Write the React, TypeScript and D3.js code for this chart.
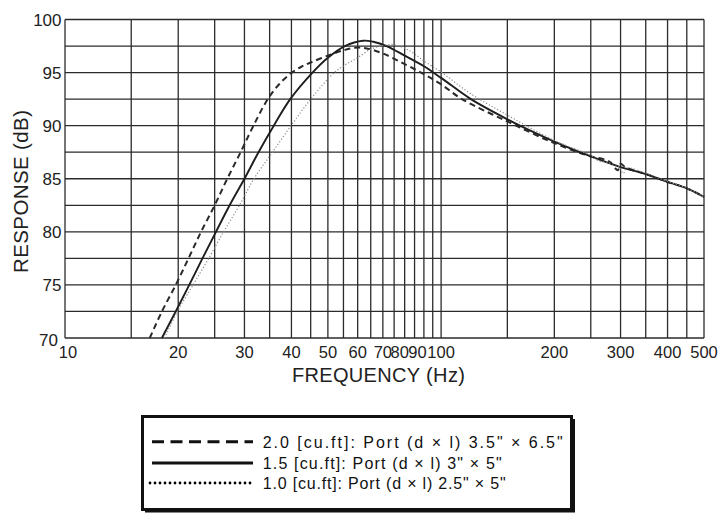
import React from "react";
import * as d3 from "d3";

// ---- data ----
const freqDashed = [16.8, 18.1, 19.7, 21.3, 23.0, 25.0, 27.0, 29.3, 31.7, 34.6, 37.2, 40.1, 42.5, 45, 50, 55, 59, 63, 70, 80, 90, 100, 113.6, 150, 200, 250, 270, 282, 290, 295, 300, 310, 350, 400, 450, 500];
const dbDashed = [70, 72.5, 75, 77.5, 80, 82.5, 85, 87.5, 90, 92.5, 93.95, 95, 95.55, 95.95, 96.6, 97.1, 97.35, 97.3, 96.8, 95.8, 94.85, 93.9, 92.5, 90.4, 88.35, 87.1, 86.85, 86.55, 86.0, 85.8, 86.4, 86.05, 85.45, 84.7, 84.1, 83.3];

const freqSolid = [18.1, 19.7, 21.4, 23.2, 25.2, 27.4, 30.0, 32.7, 35.9, 39.7, 45.5, 50, 55.5, 62, 66, 71.6, 80, 90, 100, 120, 150, 162, 200, 250, 300, 350, 400, 450, 500];
const dbSolid = [70, 72.5, 75, 77.5, 80, 82.5, 85, 87.5, 90, 92.5, 95, 96.4, 97.5, 98.0, 97.9, 97.5, 96.6, 95.6, 94.5, 92.5, 90.6, 90.0, 88.5, 87.1, 86.1, 85.45, 84.7, 84.1, 83.3];

const freqDotted = [18.4, 19.9, 21.9, 24.1, 26.4, 29.1, 31.8, 35.6, 39.9, 45, 52, 56, 60, 65, 70, 74, 80, 85, 90, 100, 120, 150, 200, 250, 262, 280, 298, 305, 312, 350, 400, 450, 500];
const dbDotted = [70, 72.5, 75, 77.5, 80, 82.5, 85, 87.5, 90, 92.5, 95, 95.8, 96.4, 97.2, 97.55, 97.65, 97.3, 96.75, 96.1, 95.05, 93.0, 91.0, 88.6, 87.2, 86.7, 86.5, 86.1, 85.5, 86.0, 85.5, 84.75, 84.1, 83.3];

const xGrid = [10, 15, 20, 25, 30, 35, 40, 45, 50, 55, 60, 65, 70, 75, 80, 85, 90, 95, 100, 150, 200, 250, 300, 350, 400, 450, 500];
const yGrid = [70, 72.5, 75, 77.5, 80, 82.5, 85, 87.5, 90, 92.5, 95, 97.5, 100];
const xTickLabels = [10, 20, 30, 40, 50, 60, 70, 80, 90, 100, 200, 300, 400, 500];
const yTickLabels = [70, 75, 80, 85, 90, 95, 100];

const legendLabels = [
  "2.0 [cu.ft]: Port (d \u00d7 l) 3.5\" \u00d7 6.5\"",
  "1.5 [cu.ft]: Port (d \u00d7 l) 3\" \u00d7 5\"",
  "1.0 [cu.ft]: Port (d \u00d7 l) 2.5\" \u00d7 5\"",
];

const FONT = "'Liberation Sans', Arial, Helvetica, sans-serif";

export default function App() {
  const x = d3.scaleLog().domain([10, 500]).range([65, 704]);
  const y = d3.scaleLinear().domain([70, 100]).range([338, 19.5]);

  const line = d3
    .line<[number, number]>()
    .x((d) => x(d[0]))
    .y((d) => y(d[1]))
    .curve(d3.curveCatmullRom.alpha(0.5));

  const series = [
    { f: freqDashed, v: dbDashed, stroke: "#2a2a2a", width: 2, dash: "6,4", cap: "butt" },
    { f: freqSolid, v: dbSolid, stroke: "#1e1e1e", width: 1.9, dash: undefined, cap: "butt" },
    { f: freqDotted, v: dbDotted, stroke: "#8a8a8a", width: 1.2, dash: "1.2,2", cap: "butt" },
  ];

  const legendStyles = [
    { stroke: "#111", width: 3, dash: "12,6.5", cap: "butt", x0: 152 },
    { stroke: "#111", width: 3, dash: undefined, cap: "butt", x0: 152 },
    { stroke: "#000", width: 2.8, dash: "0,5", cap: "round", x0: 150 },
  ];
  const legendLineY = [441.7, 463, 483];
  const legendTextY = [447.5, 468.5, 488.5];
  const legendTextLen = [300, 239, 243];

  // small label nudges where the reference crowds 80/90 together
  const xLabelDx = (f: number, i: number) => (i === 0 ? 3 : f === 80 ? -5 : f === 90 ? -6.5 : 0);

  const [x0, x1] = x.range();
  const [y0, y1] = y.range();

  return (
    <svg
      width={722}
      height={513}
      style={{ position: "absolute", left: 0, top: 0, background: "#fff" }}
      fontFamily={FONT}
    >
      <rect x={0} y={0} width={722} height={513} fill="#fff" />
      {/* grid */}
      <g stroke="#2b2b2b" strokeWidth={1.3}>
        {xGrid.map((f) => (
          <line key={"gx" + f} x1={x(f)} x2={x(f)} y1={y1} y2={y0} />
        ))}
        {yGrid.map((v) => (
          <line key={"gy" + v} x1={x0} x2={x1} y1={y(v)} y2={y(v)} />
        ))}
      </g>
      {/* curves */}
      <g fill="none">
        {series.map((s, i) => (
          <path
            key={"s" + i}
            d={line(s.f.map((f, j) => [f, s.v[j]] as [number, number])) || ""}
            stroke={s.stroke}
            strokeWidth={s.width}
            strokeDasharray={s.dash}
            strokeLinecap={s.cap as any}
          />
        ))}
      </g>
      {/* x tick labels */}
      <g fontSize={16.5} fill="#222" textAnchor="middle">
        {xTickLabels.map((f, i) => (
          <text key={"xt" + f} x={x(f) + xLabelDx(f, i)} y={357.5}>
            {f}
          </text>
        ))}
      </g>
      {/* y tick labels */}
      <g fontSize={17} fill="#222" textAnchor="end">
        {yTickLabels.map((v) => (
          <text key={"yt" + v} x={v === 70 ? 58 : 61.5} y={y(v) + (v === 70 ? 7.5 : 6.2)}>
            {v}
          </text>
        ))}
      </g>
      {/* axis titles */}
      <text
        x={378.4}
        y={381.7}
        fontSize={20}
        fill="#222"
        textAnchor="middle"
        textLength={173}
        lengthAdjust="spacing"
      >
        FREQUENCY (Hz)
      </text>
      <text
        transform="translate(28.3,191.5) rotate(-90)"
        fontSize={20.5}
        fill="#222"
        textAnchor="middle"
        textLength={163}
        lengthAdjust="spacing"
      >
        RESPONSE (dB)
      </text>
      {/* legend */}
      <g>
        <line x1={573.5} x2={573.5} y1={419} y2={512} stroke="#111" strokeWidth={3} />
        <line x1={145} x2={575} y1={511} y2={511} stroke="#111" strokeWidth={3} />
        <rect x={142.5} y={416.5} width={429} height={93} fill="#fff" stroke="#111" strokeWidth={3} />
        {legendLabels.map((lab, i) => (
          <g key={"lg" + i}>
            <line
              x1={legendStyles[i].x0}
              x2={253}
              y1={legendLineY[i]}
              y2={legendLineY[i]}
              stroke={legendStyles[i].stroke}
              strokeWidth={legendStyles[i].width}
              strokeDasharray={legendStyles[i].dash}
              strokeLinecap={legendStyles[i].cap as any}
            />
            <text
              x={262.7}
              y={legendTextY[i]}
              fontSize={16}
              fill="#111"
              textLength={legendTextLen[i]}
              lengthAdjust="spacing"
            >
              {lab}
            </text>
          </g>
        ))}
      </g>
    </svg>
  );
}
